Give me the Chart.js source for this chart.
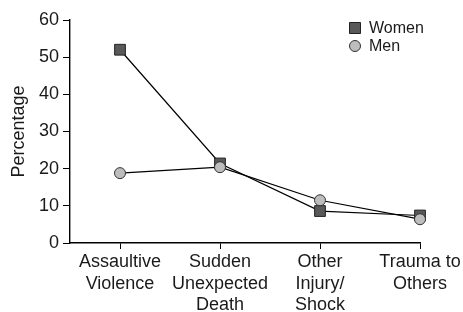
<!DOCTYPE html>
<html>
<head>
<meta charset="utf-8">
<script src="https://cdn.jsdelivr.net/npm/chart.js@4/dist/chart.umd.min.js"></script>
<style>
  html, body { margin: 0; padding: 0; background: #fff; }
  #wrap { width: 463px; height: 312px; }
</style>
</head>
<body>
<div id="wrap"><canvas id="c" width="463" height="312"></canvas></div>
<script>
// data
const categories = [
  ['Assaultive', 'Violence'],
  ['Sudden', 'Unexpected', 'Death'],
  ['Other', 'Injury/', 'Shock'],
  ['Trauma to', 'Others']
];
const women = [52, 21.4, 8.6, 7.4];
const men = [18.8, 20.4, 11.5, 6.4];
const yTicks = [0, 10, 20, 30, 40, 50, 60];

const FONT = 'Liberation Sans, Arial, sans-serif';
const INK = '#1a1a1a';

const toXY = arr => arr.map((v, i) => ({ x: i, y: v }));

// simple legend in the top right of the plot
const legendBox = {
  id: 'legendBox',
  afterDraw(chart) {
    const { ctx } = chart;
    const items = [chart.data.datasets[1], chart.data.datasets[0]]; // Women, Men
    ctx.save();
    ctx.font = '16px ' + FONT;
    ctx.textBaseline = 'middle';
    items.forEach((ds, i) => {
      const cx = 355, cy = 28 + i * 18;
      ctx.fillStyle = ds.pointBackgroundColor;
      ctx.strokeStyle = ds.pointBorderColor;
      ctx.lineWidth = 1;
      ctx.beginPath();
      if (ds.pointStyle === 'rect') ctx.rect(cx - 5.5, cy - 5.5, 11, 11);
      else ctx.arc(cx, cy, 5.5, 0, Math.PI * 2);
      ctx.fill();
      ctx.stroke();
      ctx.fillStyle = INK;
      ctx.fillText(ds.label, 369, cy + 1);
    });
    ctx.restore();
  }
};

new Chart(document.getElementById('c'), {
  type: 'line',
  data: {
    datasets: [
      {
        label: 'Men',
        data: toXY(men),
        borderColor: '#000',
        borderWidth: 1.2,
        clip: false,
        pointStyle: 'circle',
        pointRadius: 5.5,
        pointBackgroundColor: '#bdbdbd',
        pointBorderColor: '#333',
        pointBorderWidth: 1
      },
      {
        label: 'Women',
        data: toXY(women),
        borderColor: '#000',
        borderWidth: 1.2,
        clip: false,
        pointStyle: 'rect',
        pointRadius: 7.6,
        pointBackgroundColor: '#595959',
        pointBorderColor: '#222',
        pointBorderWidth: 1
      }
    ]
  },
  plugins: [legendBox],
  options: {
    responsive: false,
    animation: false,
    layout: { padding: { top: 20, right: 43, left: 0, bottom: 0 } },
    plugins: { legend: { display: false }, tooltip: { enabled: false } },
    scales: {
      x: {
        type: 'linear',
        min: -0.5,
        max: 3,
        afterBuildTicks: s => { s.ticks = categories.map((_, i) => ({ value: i })); },
        afterFit: s => { s.height = 69; s.paddingLeft = 0; s.paddingRight = 0; },
        grid: { drawOnChartArea: false, tickLength: 6, color: '#000' },
        border: { color: '#000', width: 1.4 },
        ticks: {
          autoSkip: false,
          maxRotation: 0,
          padding: 3,
          color: INK,
          font: { family: FONT, size: 18, lineHeight: 1.17 },
          callback: v => categories[v]
        }
      },
      y: {
        min: 0,
        max: 60,
        afterBuildTicks: s => { s.ticks = yTicks.map(v => ({ value: v })); },
        afterFit: s => { s.width = 70; },
        grid: { drawOnChartArea: false, tickLength: 7, color: '#000' },
        border: { color: '#000', width: 1.4 },
        ticks: {
          padding: 4,
          color: INK,
          font: { family: FONT, size: 18 }
        },
        title: {
          display: true,
          text: 'Percentage',
          color: INK,
          padding: { top: 8, bottom: 0 },
          font: { family: FONT, size: 18, lineHeight: 1.2 }
        }
      }
    }
  }
});
</script>
</body>
</html>
